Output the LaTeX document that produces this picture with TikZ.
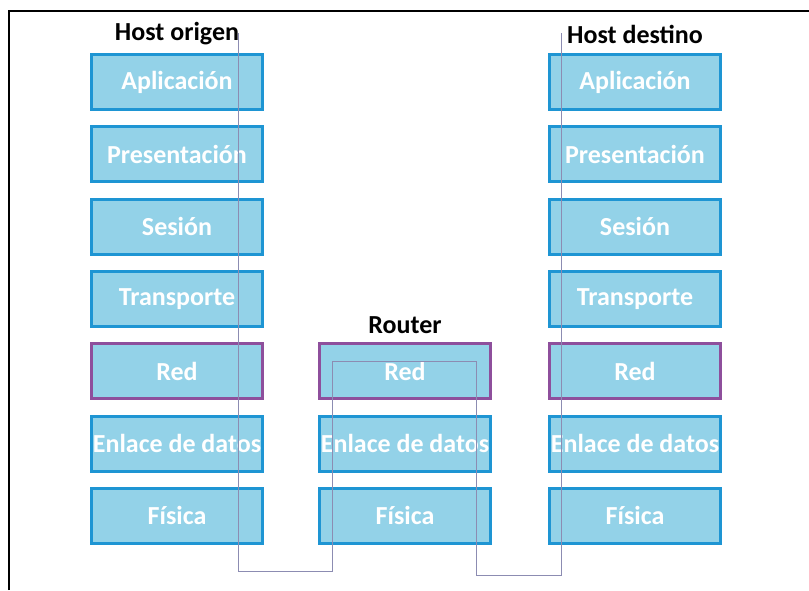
\documentclass[tikz,border=0pt]{standalone}
\usepackage{fontspec}
\setmainfont{Carlito}
\usetikzlibrary{positioning}
\definecolor{capafill}{HTML}{93D2E8}
\definecolor{capaborde}{HTML}{1E95D3}
\definecolor{redborde}{HTML}{8E4F9C}
\definecolor{traza}{HTML}{8C8CB2}

\begin{document}
\begin{tikzpicture}[x=1pt,y=-1pt] % 1pt per pixel, y going down
  \tikzset{
    capa/.style={draw=capaborde,fill=capafill,line width=3pt,
      minimum width=171pt,minimum height=55pt,inner sep=0pt,
      text=white,font=\fontsize{26}{30}\selectfont\bfseries},
    capared/.style={capa,draw=redborde},
    titulo/.style={font=\fontsize{26}{30}\selectfont\bfseries,inner sep=0pt}
  }
  \useasboundingbox (0,0) rectangle (809,590);

  % marco
  \draw[line width=2pt] (9,590) -- (9,11) -- (809,11);

  % host origen
  \node[titulo](torigen) at (177,34) {Host origen};
  \node[capa](oApl) at (177,82) {Aplicación};
  \node[capa](oPre) at (177,154.3) {Presentación};
  \node[capa](oSes) at (177,226.6) {Sesión};
  \node[capa](oTra) at (177,298.9) {Transporte};
  \node[capared](oRed) at (177,371.2) {Red};
  \node[capa](oEnl) at (177,443.5) {Enlace de datos};
  \node[capa](oFis) at (177,515.8) {Física};

  % router
  \node[titulo](trouter) at (405,325) {Router};
  \node[capared](rRed) at (405,371.2) {Red};
  \node[capa](rEnl) at (405,443.5) {Enlace de datos};
  \node[capa](rFis) at (405,515.8) {Física};

  % host destino
  \node[titulo](tdestino) at (635,34) {Host destino};
  \node[capa](dApl) at (635,82) {Aplicación};
  \node[capa](dPre) at (635,154.3) {Presentación};
  \node[capa](dSes) at (635,226.6) {Sesión};
  \node[capa](dTra) at (635,298.9) {Transporte};
  \node[capared](dRed) at (635,371.2) {Red};
  \node[capa](dEnl) at (635,443.5) {Enlace de datos};
  \node[capa](dFis) at (635,515.8) {Física};

  % recorrido de los datos
  \coordinate (salida) at (238,33);
  \coordinate (llegada) at (561,33);
  \draw[traza,line width=1pt] (salida) -- (238,571) -- (332,571) -- (332,361)
    -- (476,361) -- (476,575) -- (561,575) -- (llegada);

\end{tikzpicture}
\end{document}
